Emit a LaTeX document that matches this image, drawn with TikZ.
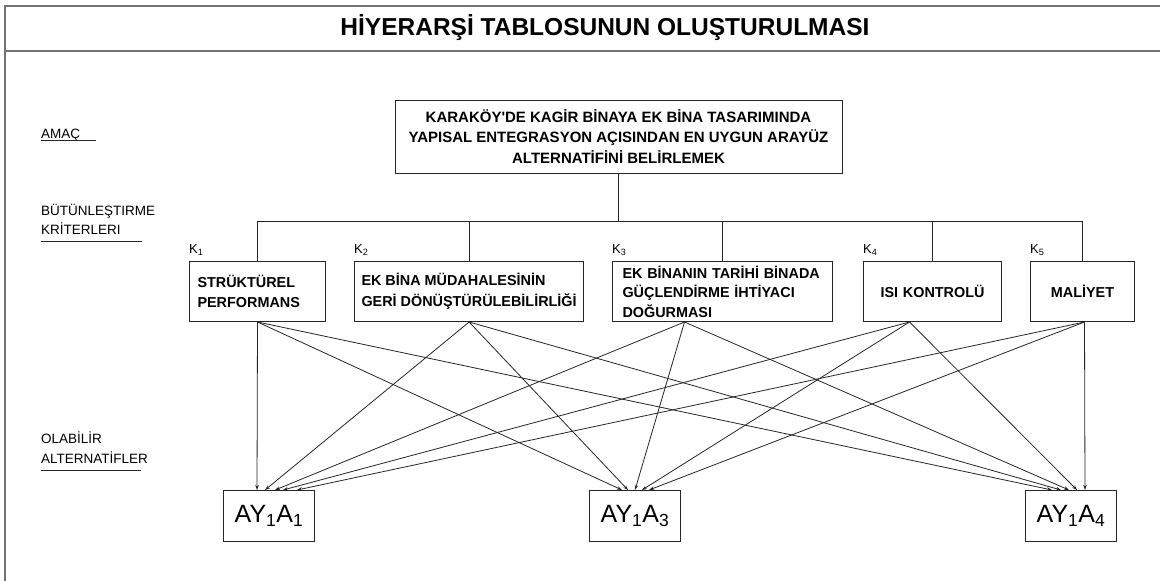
\documentclass[tikz,border=0pt]{standalone}
\usepackage{fontspec}
\setmainfont{Liberation Sans}
\usetikzlibrary{arrows.meta}
\usetikzlibrary{positioning}

\tikzset{
  frameline/.style={draw=black!55, line width=1.6pt},
  goalbox/.style={draw=black!85, line width=1pt, minimum width=447pt, minimum height=73pt,
    align=center, inner sep=0pt, font=\fontsize{15}{20.5}\selectfont\bfseries},
  critbox/.style={draw=black!85, line width=1pt, minimum height=60pt, inner xsep=8pt, inner ysep=0pt,
    align=left, anchor=north west, font=\fontsize{14.4}{20.5}\selectfont\bfseries,
    execute at begin node={\hyphenpenalty=10000 }},
  altbox/.style={draw=black!85, line width=1pt, minimum width=91pt, minimum height=51pt,
    anchor=north west, inner sep=0pt, font=\fontsize{25}{28}\selectfont},
  sidetext/.style={anchor=base west, inner sep=0pt, font=\fontsize{13.5}{16}\selectfont},
  ktext/.style={anchor=south west, inner sep=0pt, font=\fontsize{13}{15}\selectfont},
  uline/.style={draw=black!85, line width=0.8pt},
  tree/.style={draw=black!85, line width=1pt},
  link/.style={draw=black!85, line width=0.8pt, -{Stealth[length=5pt,width=3.5pt]}}
}

\begin{document}
\begin{tikzpicture}[x=1pt,y=-1pt]
\useasboundingbox (0,0) rectangle (1160,581);

% frame and title
\draw[frameline] (5,581) -- (5,6) -- (1160,6);
\draw[frameline] (5,51) -- (1160,51);
\node[font=\fontsize{24.5}{27}\selectfont\bfseries] (title) at (605,28) {HİYERARŞİ TABLOSUNUN OLUŞTURULMASI};

% left column
\node[sidetext] (amac) at (41,138) {AMAÇ};
\draw[uline] ([yshift=-2pt]amac.base west) -- ++(55,0);
\node[sidetext] (butun) at (41,215) {BÜTÜNLEŞTIRME};
\node[sidetext] (krit) at (41,234) {KRİTERLERI};
\draw[uline] ([yshift=-7pt]krit.base west) -- ++(101,0);
\node[sidetext] (olab) at (41,443) {OLABİLİR};
\node[sidetext] (alt) at (41,463) {ALTERNATİFLER};
\draw[uline] ([yshift=-7pt]alt.base west) -- ++(100,0);

% goal
\node[goalbox] (goal) at (618.5,136.5) {KARAKÖY\textquotesingle DE KAGİR BİNAYA EK BİNA TASARIMINDA\\
  YAPISAL ENTEGRASYON AÇISINDAN EN UYGUN ARAYÜZ\\ ALTERNATİFİNİ BELİRLEMEK};

% criteria
\node[critbox, text width=120pt] (k1) at (189,261) {STRÜKTÜREL\\PERFORMANS};
\node[critbox, inner xsep=7pt] (k2) at (354,261) {EK BİNA MÜDAHALESİNİN\\GERİ DÖNÜŞTÜRÜLEBİLİRLİĞİ};
\node[critbox, text width=200pt, inner xsep=10pt, font=\fontsize{14.4}{19.5}\selectfont\bfseries] (k3) at (612,261) {EK BİNANIN TARİHİ BİNADA\\GÜÇLENDİRME İHTİYACI\\DOĞURMASI};
\node[critbox, text width=122pt, align=center] (k4) at (863,261) {ISI KONTROLÜ};
\node[critbox, text width=88pt, align=center] (k5) at (1030,261) {MALİYET};

\foreach \k in {1,...,5}
  \node[ktext] (lk\k) at ([yshift=5pt]k\k.north west) {K\textsubscript{\k}};

% tree
\draw[tree] (goal.south) -- ++(0,48) coordinate (hub);
\draw[tree] (k1.north) |- (k5.north |- hub) -- (k5.north);
\foreach \k in {2,3,4}
  \draw[tree] (k\k.north) -- (k\k.north |- hub);

% alternatives
\node[altbox] (a1) at (223,490) {AY\textsubscript{1}A\textsubscript{1}};
\node[altbox] (a3) at (589,490) {AY\textsubscript{1}A\textsubscript{3}};
\node[altbox] (a4) at (1025,490) {AY\textsubscript{1}A\textsubscript{4}};

\coordinate (f1) at (k1.south);
\coordinate (f2) at (k2.south);
\coordinate (f3) at ([xshift=-38pt]k3.south);
\coordinate (f4) at ([xshift=-23pt]k4.south);
\coordinate (f5) at ([xshift=2pt]k5.south);

\foreach \a/\offs in {a1/{34,42,52,60,74}, a3/{33,39,46,53,60}, a4/{27,36,44,52,60}}
  \foreach \o [count=\k] in \offs
    \draw[link] (f\k) -- ([xshift=\o pt]\a.north west);

\end{tikzpicture}
\end{document}
